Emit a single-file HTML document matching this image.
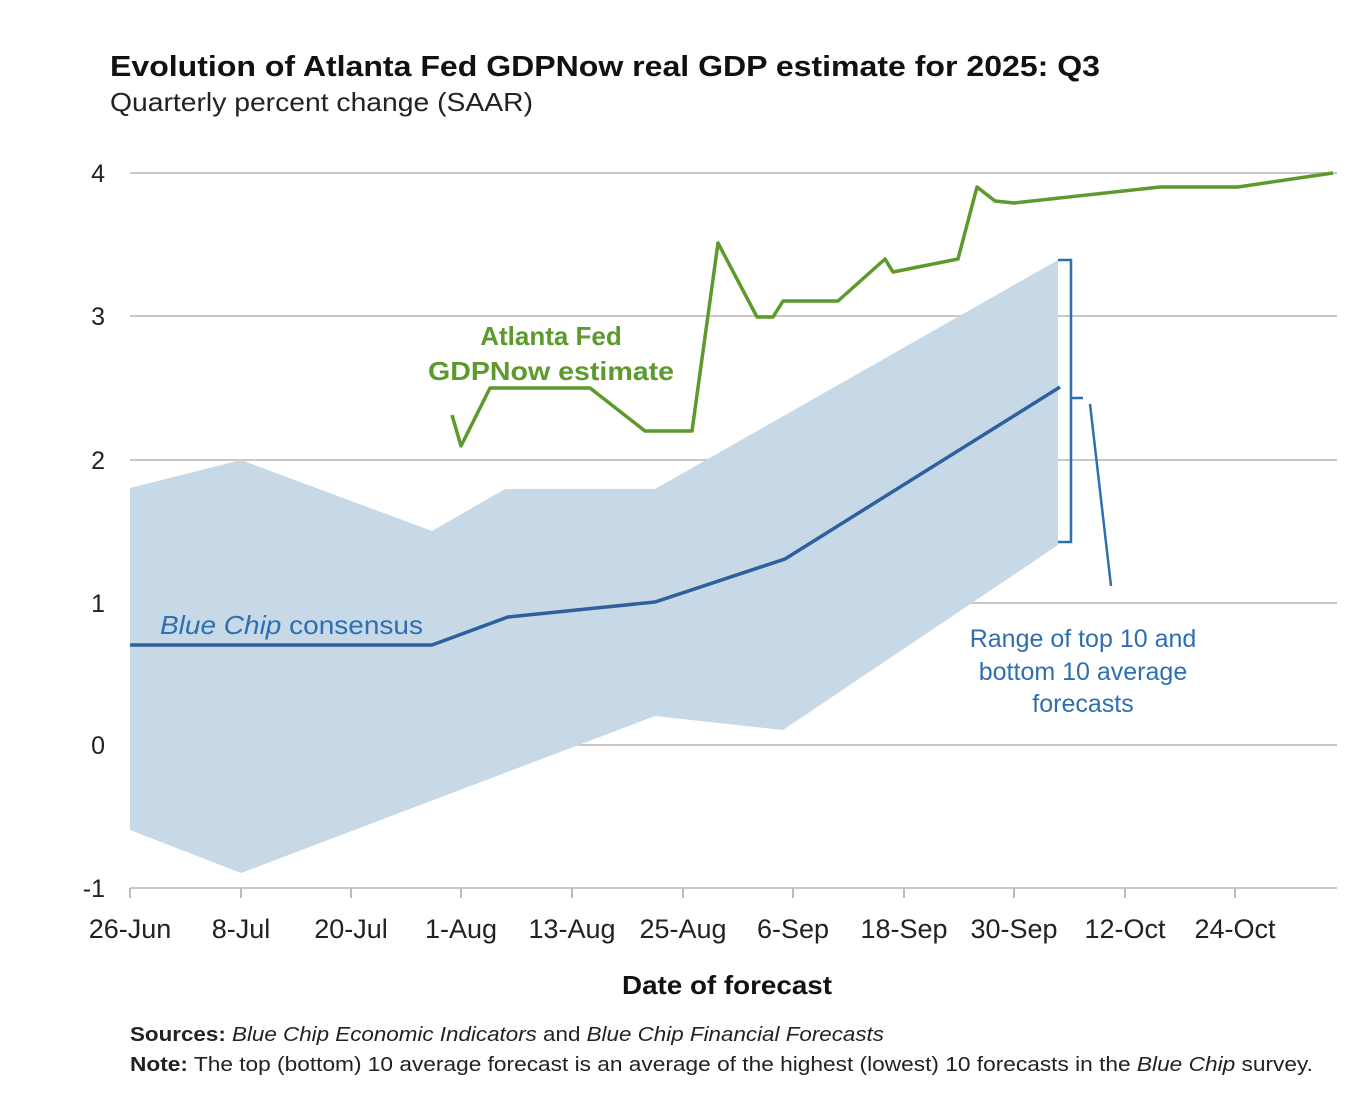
<!DOCTYPE html>
<html><head><meta charset="utf-8"><style>
html,body{margin:0;padding:0;background:#fff;}
</style></head><body>
<svg width="1346" height="1098" xmlns="http://www.w3.org/2000/svg" font-family="Liberation Sans, sans-serif">
<rect width="1346" height="1098" fill="#fff"/>
<text x="110" y="76" font-size="29" font-weight="bold" fill="#111" textLength="990" lengthAdjust="spacingAndGlyphs">Evolution of Atlanta Fed GDPNow real GDP estimate for 2025: Q3</text>
<text x="110" y="111" font-size="26" fill="#222" textLength="423" lengthAdjust="spacingAndGlyphs">Quarterly percent change (SAAR)</text>
<g stroke="#c8c8c8" stroke-width="2">
<line x1="130" y1="173" x2="1337" y2="173"/>
<line x1="130" y1="316" x2="1337" y2="316"/>
<line x1="130" y1="460" x2="1337" y2="460"/>
<line x1="130" y1="603" x2="1337" y2="603"/>
<line x1="130" y1="745" x2="1337" y2="745"/>
<line x1="130" y1="888" x2="1337" y2="888"/>
</g>
<polygon fill="#c7d9e6" points="130,488 241,460 432,531 505,489 655,489 1058,260 1058,545 783,730 655,716 241,873 130,830"/>
<g stroke="#bbb" stroke-width="2">
<line x1="130" y1="888" x2="130" y2="898"/><line x1="241" y1="888" x2="241" y2="898"/><line x1="351" y1="888" x2="351" y2="898"/><line x1="461" y1="888" x2="461" y2="898"/><line x1="572" y1="888" x2="572" y2="898"/><line x1="683" y1="888" x2="683" y2="898"/><line x1="793" y1="888" x2="793" y2="898"/><line x1="904" y1="888" x2="904" y2="898"/><line x1="1014" y1="888" x2="1014" y2="898"/><line x1="1125" y1="888" x2="1125" y2="898"/><line x1="1235" y1="888" x2="1235" y2="898"/>
</g>
<polyline fill="none" stroke="#2e5f9e" stroke-width="3.5" points="130,645 432,645 508,617 655,602 785,559 1060,387"/>
<polyline fill="none" stroke="#5c9a2c" stroke-width="3.5" stroke-linejoin="round" points="452,415 461,446 490,388 590,388 645,431 692,431 718,243 757,317 773,317 783,301 838,301 885,259 893,272 958,259 977,187 995,201 1014,203 1160,187 1238,187 1333,173"/>
<g fill="none" stroke="#2e6fb0" stroke-width="2.5">
<polyline points="1058,260 1071,260 1071,542 1058,542"/>
<line x1="1071" y1="398" x2="1083" y2="398"/>
<line x1="1090" y1="404" x2="1111" y2="586"/>
</g>
<g font-size="25" fill="#222" text-anchor="end">
<text x="105" y="182">4</text><text x="105" y="325">3</text><text x="105" y="469">2</text><text x="105" y="612">1</text><text x="105" y="754">0</text><text x="105" y="897">-1</text>
</g>
<g font-size="27" fill="#222" text-anchor="middle">
<text x="130" y="938">26-Jun</text><text x="241" y="938">8-Jul</text><text x="351" y="938">20-Jul</text><text x="461" y="938">1-Aug</text><text x="572" y="938">13-Aug</text><text x="683" y="938">25-Aug</text><text x="793" y="938">6-Sep</text><text x="904" y="938">18-Sep</text><text x="1014" y="938">30-Sep</text><text x="1125" y="938">12-Oct</text><text x="1235" y="938">24-Oct</text>
</g>
<text x="727" y="994" font-size="26" font-weight="bold" text-anchor="middle" fill="#111" textLength="210" lengthAdjust="spacingAndGlyphs">Date of forecast</text>
<text x="551" y="345" font-size="26" font-weight="bold" fill="#5c9a2c" text-anchor="middle">Atlanta Fed</text>
<text x="551" y="380" font-size="26" font-weight="bold" fill="#5c9a2c" text-anchor="middle" textLength="246" lengthAdjust="spacingAndGlyphs">GDPNow estimate</text>
<text x="160" y="634" font-size="26" fill="#2e6fb0" textLength="263" lengthAdjust="spacingAndGlyphs"><tspan font-style="italic">Blue Chip</tspan> consensus</text>
<g font-size="25" fill="#2e6fb0" text-anchor="middle">
<text x="1083" y="647">Range of top 10 and</text>
<text x="1083" y="680">bottom 10 average</text>
<text x="1083" y="712">forecasts</text>
</g>
<text x="130" y="1041" font-size="20" fill="#222" textLength="754" lengthAdjust="spacingAndGlyphs"><tspan font-weight="bold">Sources:</tspan> <tspan font-style="italic">Blue Chip Economic Indicators</tspan> and <tspan font-style="italic">Blue Chip Financial Forecasts</tspan></text>
<text x="130" y="1071" font-size="20" fill="#222" textLength="1183" lengthAdjust="spacingAndGlyphs"><tspan font-weight="bold">Note:</tspan> The top (bottom) 10 average forecast is an average of the highest (lowest) 10 forecasts in the <tspan font-style="italic">Blue Chip</tspan> survey.</text>
</svg>
</body></html>
